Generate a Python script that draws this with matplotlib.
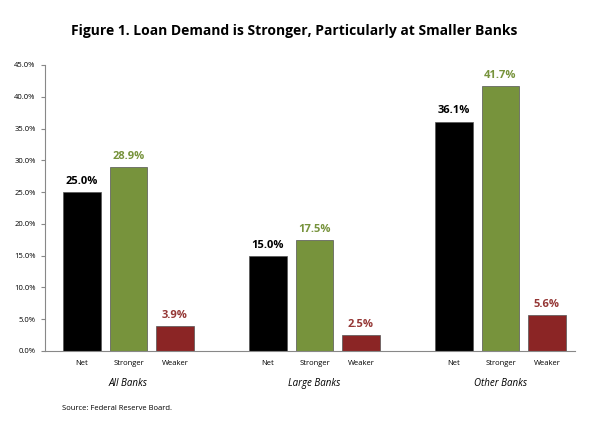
import numpy as np
import matplotlib.pyplot as plt

groups = ['All Banks', 'Large Banks', 'Other Banks']
series = ['Net', 'Stronger', 'Weaker']
net = [25.0, 15.0, 36.1]
stronger = [28.9, 17.5, 41.7]
weaker = [3.9, 2.5, 5.6]

colors = ['#000000', '#77933C', '#8B2525']
label_colors = ['#000000', '#77933C', '#953735']

plt.rcParams['font.family'] = ['Open Sans', 'DejaVu Sans']
fig = plt.figure(figsize=(5.89, 4.42), dpi=100)
ax = fig.add_axes([0.076, 0.206, 0.90, 0.647])

for gi, g in enumerate(groups):
    vals = [net[gi], stronger[gi], weaker[gi]]
    for si, v in enumerate(vals):
        x = gi * 4 + si
        ax.bar(x, v, width=0.8, color=colors[si], edgecolor='#555555', linewidth=0.5)
        ax.text(x, v + 0.8, f'{v:.1f}%', ha='center', va='bottom', fontsize=8,
                fontweight='bold', color=label_colors[si])
        ax.text(x, -1.5, series[si], ha='center', va='top', fontsize=5.5)
    ax.text(gi * 4 + 1, -4.2, g, ha='center', va='top', fontsize=7, style='italic')

ax.set_xlim(-0.8, 10.6)
ax.set_ylim(0, 45)
ax.set_yticks(np.arange(0, 46, 5))
ax.set_yticklabels([f'{t:.1f}%' for t in np.arange(0, 46, 5)], fontsize=5.5)
ax.set_xticks([])
for s in ['top', 'right']:
    ax.spines[s].set_visible(False)
for s in ['left', 'bottom']:
    ax.spines[s].set_color('#888888')
ax.tick_params(axis='y', length=3, color='#888888')

fig.text(0.5, 0.93, 'Figure 1. Loan Demand is Stronger, Particularly at Smaller Banks',
         ha='center', va='center', fontsize=10, fontweight='bold')
fig.text(0.105, 0.075, 'Source: Federal Reserve Board.', fontsize=5.5, va='center')

fig.savefig('out.png', dpi=100)
